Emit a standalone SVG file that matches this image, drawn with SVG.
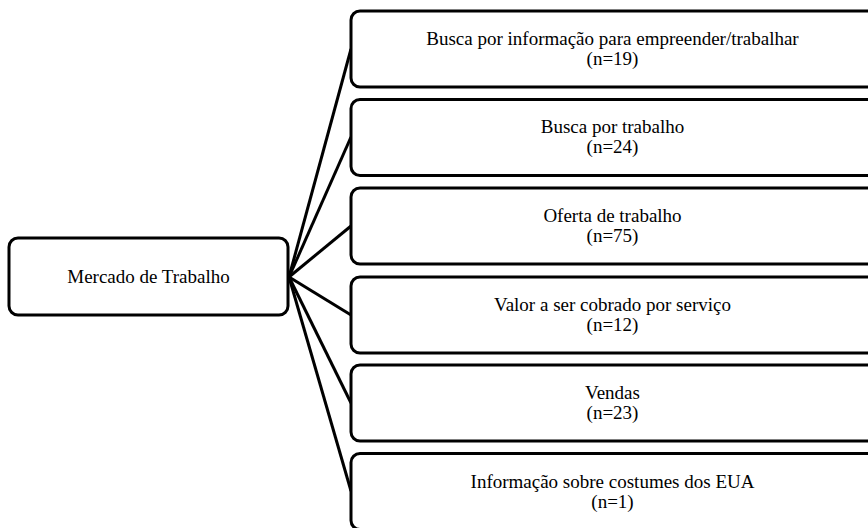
<svg xmlns="http://www.w3.org/2000/svg" width="868" height="528" viewBox="0 0 868 528">
<style>
.box{fill:#fff;stroke:#000;stroke-width:3}
.lbl{font-family:"Liberation Serif","Times New Roman","DejaVu Serif",serif;font-size:19px;fill:#000;text-anchor:middle}
.con{stroke:#000;stroke-width:3;fill:none}
</style>
<rect width="868" height="528" fill="#fff"/>
<g id="connectors">
<line class="con" x1="289" y1="277" x2="351" y2="49"/>
<line class="con" x1="289" y1="277" x2="351" y2="137"/>
<line class="con" x1="289" y1="277" x2="351" y2="226"/>
<line class="con" x1="289" y1="277" x2="351" y2="315"/>
<line class="con" x1="289" y1="277" x2="351" y2="403"/>
<line class="con" x1="289" y1="277" x2="351" y2="491"/>
</g>
<g id="root">
<rect class="box" x="9" y="238" width="279" height="77" rx="9"/>
<text class="lbl" x="148.5" y="283">Mercado de Trabalho</text>
</g>
<g id="n1">
<rect class="box" x="351" y="11" width="530" height="76" rx="9"/>
<text class="lbl" x="612.5" y="45">Busca por informação para empreender/trabalhar</text>
<text class="lbl" x="612.5" y="65">(n=19)</text>
</g>
<g id="n2">
<rect class="box" x="351" y="99.5" width="530" height="76" rx="9"/>
<text class="lbl" x="612.5" y="133">Busca por trabalho</text>
<text class="lbl" x="612.5" y="153">(n=24)</text>
</g>
<g id="n3">
<rect class="box" x="351" y="188" width="530" height="76" rx="9"/>
<text class="lbl" x="612.5" y="222">Oferta de trabalho</text>
<text class="lbl" x="612.5" y="242">(n=75)</text>
</g>
<g id="n4">
<rect class="box" x="351" y="277" width="530" height="76" rx="9"/>
<text class="lbl" x="612.5" y="311">Valor a ser cobrado por serviço</text>
<text class="lbl" x="612.5" y="331">(n=12)</text>
</g>
<g id="n5">
<rect class="box" x="351" y="365" width="530" height="76" rx="9"/>
<text class="lbl" x="612.5" y="399">Vendas</text>
<text class="lbl" x="612.5" y="419">(n=23)</text>
</g>
<g id="n6">
<rect class="box" x="351" y="453.5" width="530" height="76" rx="9"/>
<text class="lbl" x="612.5" y="487.5">Informação sobre costumes dos EUA</text>
<text class="lbl" x="612.5" y="507.5">(n=1)</text>
</g>
</svg>
